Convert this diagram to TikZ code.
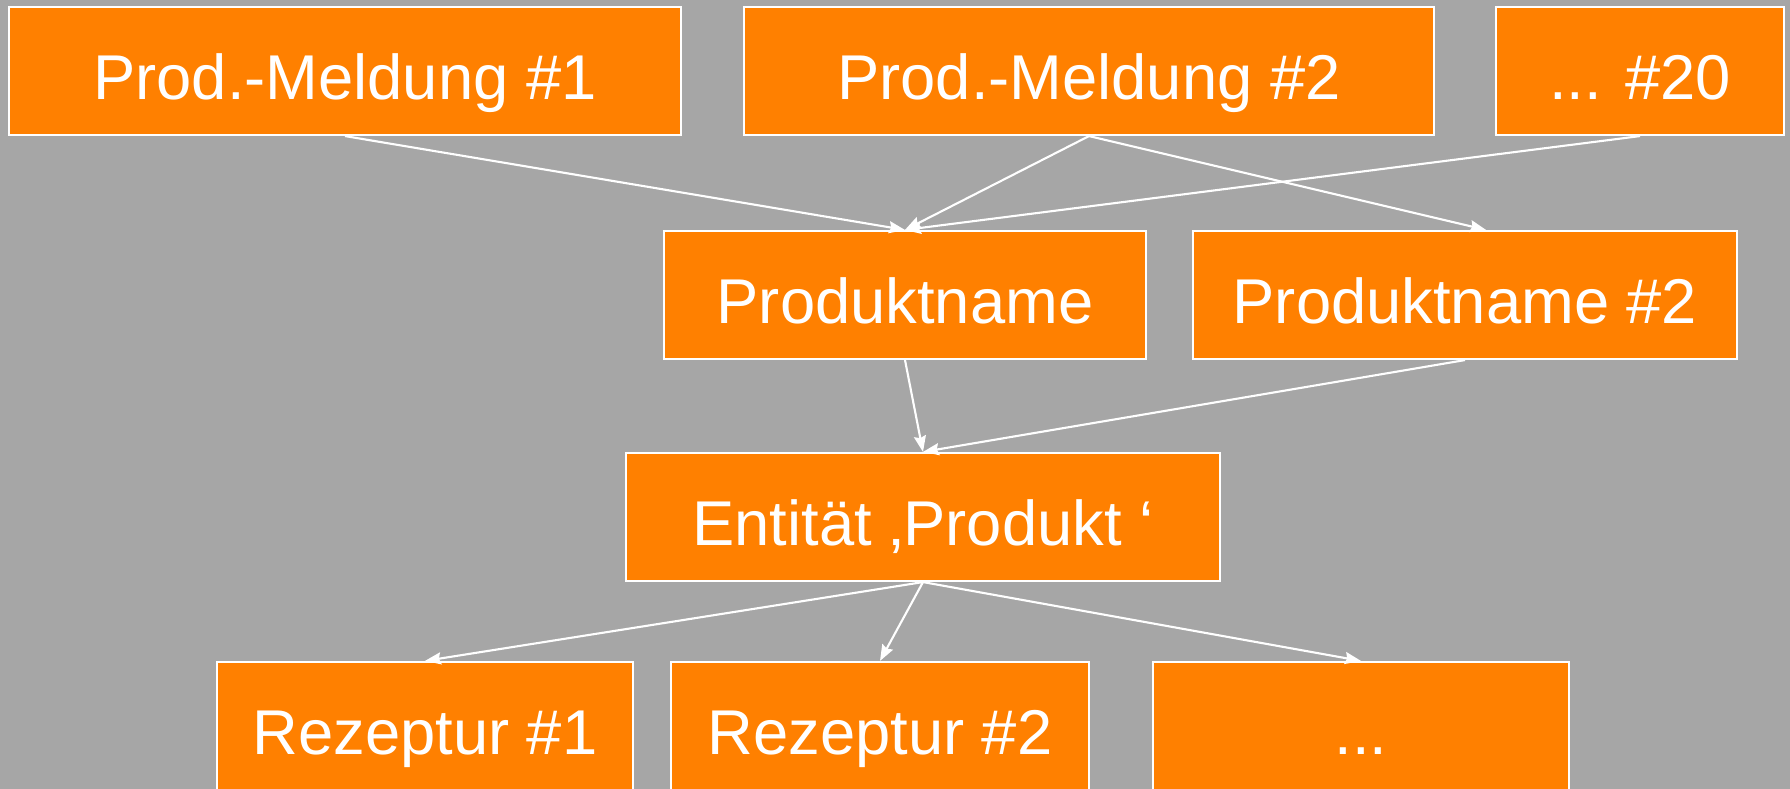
\documentclass[tikz,border=0pt]{standalone}
\usepackage{fontspec}
\setmainfont{Liberation Sans}
\usepackage{tikz}
\usetikzlibrary{arrows.meta}
\definecolor{slidegray}{HTML}{A6A6A6}
\definecolor{boxorange}{HTML}{FF8000}

\begin{document}
\begin{tikzpicture}[x=0.01cm,y=-0.01cm,
    entity/.style={draw=white,line width=0.6pt,fill=boxorange,text=white,
      minimum height=1.28cm,inner sep=0pt,text height=0.56cm,text depth=0cm,
      font=\fontsize{18}{20}\selectfont},
    link/.style={draw=white,line width=0.6pt,
      -{Stealth[length=0.16cm,width=0.12cm,inset=0.02cm]}}]
  \fill[slidegray] (0,0) rectangle (1790,789);
  \useasboundingbox (0,0) rectangle (1790,789);
  % messages
  \node[entity,minimum width=6.72cm] (msg1) at (345,71) {Prod.-Meldung \#1};
  \node[entity,minimum width=6.90cm] (msg2) at (1089,71) {Prod.-Meldung \#2};
  \node[entity,minimum width=2.87cm] (msg20) at (1640,71) {... \#20};
  % product names
  \node[entity,minimum width=4.81cm] (name1) at (905,295) {Produktname};
  \node[entity,minimum width=5.44cm] (name2) at (1465,295) {Produktname \#2};
  \node[entity,minimum width=5.94cm] (prod) at (923,517) {Entität ‚Produkt ‘};
  % recipes
  \node[entity,minimum width=4.15cm] (rec1) at (425,726) {Rezeptur \#1};
  \node[entity,minimum width=4.17cm] (rec2) at (880,726) {Rezeptur \#2};
  \node[entity,minimum width=4.16cm] (rec3) at (1361,726) {...};
  \draw[link] (msg1.south) -- (name1.north);
  \draw[link] (msg2.south) -- (name1.north);
  \draw[link] (msg2.south) -- ([xshift=0.21cm]name2.north);
  \draw[link] (msg20.south) -- (name1.north);
  \draw[link] (name1.south) -- (prod.north);
  \draw[link] (name2.south) -- (prod.north);
  \draw[link] (prod.south) -- (rec1.north);
  \draw[link] (prod.south) -- (rec2.north);
  \draw[link] (prod.south) -- (rec3.north);
\end{tikzpicture}
\end{document}
